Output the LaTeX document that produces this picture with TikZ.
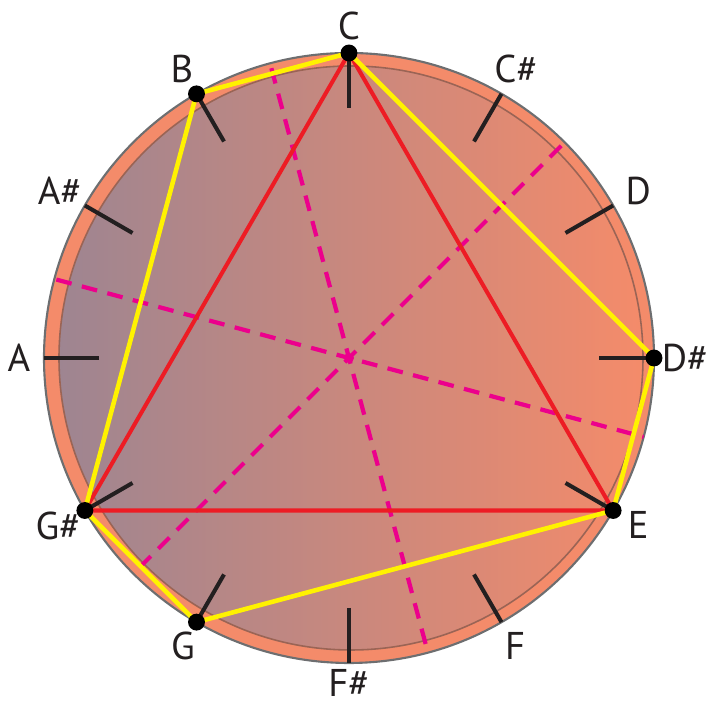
\documentclass[tikz,border=0pt]{standalone}
\usepackage{fontspec}
\setmainfont{PT Sans}
\usepackage{xcolor}
\usepackage{tikz}

\definecolor{ringfill}{HTML}{F48B6A}
\definecolor{rimgray}{HTML}{6D6E70}
\definecolor{innerline}{HTML}{9A6455}
\definecolor{shadeleft}{HTML}{9E8591}
\definecolor{shademid}{HTML}{E6896C}
\definecolor{tickblack}{HTML}{231F20}
\definecolor{axismagenta}{HTML}{EC008C}
\definecolor{triadred}{HTML}{ED1C24}
\definecolor{hexyellow}{HTML}{FFF200}

\begin{document}
\begin{tikzpicture}[x=0.01cm,y=0.01cm,
  tick/.style={draw=tickblack,line width=1.15pt},
  axis/.style={draw=axismagenta,line width=1.2pt,dash pattern=on 4.5pt off 3pt},
  triad/.style={draw=triadred,line width=1.15pt,line join=round},
  hexa/.style={draw=hexyellow,line width=1.3pt,line join=round},
  pc/.style={circle,fill=black,inner sep=0pt,minimum size=4.8pt},
  note/.style={font=\fontsize{11}{13}\selectfont,text=tickblack,inner sep=0.5pt}]
  \useasboundingbox (0,0) rectangle (712,704);
  \begin{scope}[shift={(349,346)}]
    % disc
    \draw[fill=ringfill,draw=rimgray,line width=0.6pt] (0,0) circle (305);
    \shade[left color=shadeleft,middle color=shademid,right color=ringfill,draw=innerline,line width=0.45pt] (2,0) circle (292);
    % symmetry axes
    \draw[axis] (105:300) -- (285:303);
    \draw[axis] (165:303) -- (345:305);
    \draw[axis] (45:300) -- (225:298);
    \fill[axismagenta] (0,0) circle (5);
    % twelve pitch classes
    \foreach \n/\t/\r [count=\i from 0] in {C/C/332,Cs/C\#/334,D/D/334,Ds/D\#/336,E/E/334,F/F/332,Fs/F\#/325,G/G/332,Gs/G\#/336,A/A/330,As/A\#/334,B/B/334} {
      \pgfmathsetmacro\a{90-30*\i}
      \coordinate (p-\n) at (\a:305);
      \node[note] (l-\n) at (\a:\r) {\t};
    }
    % polygons
    \draw[triad] (p-C) -- (p-E) -- (p-Gs) -- cycle;
    \draw[hexa] (p-C) -- (p-Ds) -- (p-E) -- (p-G) -- (p-Gs) -- (p-B) -- cycle;
    \foreach \i in {0,...,11}
      \draw[tick] (90-30*\i:250) -- (90-30*\i:305);
    \foreach \n in {C,Ds,E,G,Gs,B}
      \node[pc] (d-\n) at (p-\n) {};
  \end{scope}
\end{tikzpicture}
\end{document}
